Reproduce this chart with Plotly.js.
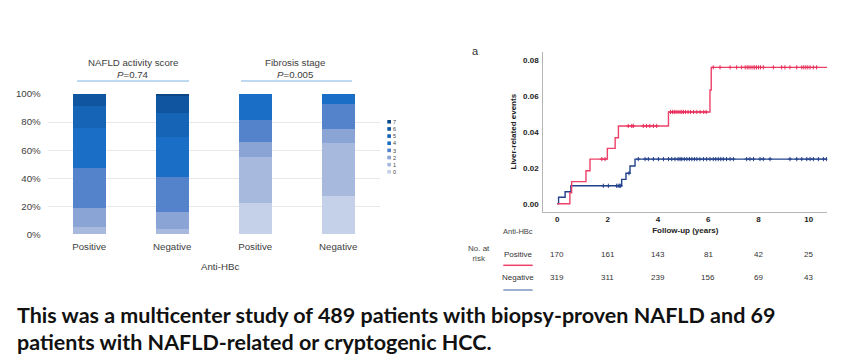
<!DOCTYPE html>
<html>
<head>
<meta charset="utf-8">
<script src="https://cdn.plot.ly/plotly-3.0.1.min.js"></script>
<style>html,body{margin:0;padding:0;background:#fff;}#chart{width:865px;height:363px;}</style>
</head>
<body>
<div id="chart"></div>
<script>
// ---------- data: stacked bars ----------
const barGroups = ["Positive", "Negative", "Positive", "Negative"];
const scoreLabels = ["0", "1", "2", "3", "4", "5", "6", "7"];
const nasPositive = [0, 5.4, 13.1, 28.5, 29.0, 15.7, 8.3, 0];
const nasNegative = [0, 3.5, 12.2, 25.4, 28.5, 16.6, 12.4, 1.4];
const fibPositive = [22.1, 33.2, 10.7, 15.5, 18.5, 0, 0, 0];
const fibNegative = [27.5, 37.8, 9.8, 17.6, 7.3, 0, 0, 0];
const panelTitles = ["NAFLD activity score", "Fibrosis stage"];
const panelP = ["0.74", "0.005"];
const barXTitle = "Anti-HBc";
const pctTicks = [0, 20, 40, 60, 80, 100];

// ---------- data: Kaplan-Meier ----------
const posTime = [0, 0.50, 0.57, 1.14, 1.30, 1.99, 2.30, 2.43, 4.42, 6.07, 6.12, 10.73];
const posEvents = [0, 0.0061, 0.0123, 0.0184, 0.0249, 0.0309, 0.0368, 0.0434, 0.0512, 0.0635, 0.0761, 0.0761];
const negTime = [0, 0.05, 0.31, 0.54, 2.56, 2.73, 2.89, 3.09, 10.73];
const negEvents = [0, 0.0036, 0.0067, 0.0100, 0.0136, 0.0170, 0.0210, 0.0249, 0.0249];
const posCensor = [1.77, 1.90, 2.82, 2.96, 3.02, 3.42, 3.55, 3.68, 3.82, 3.95, 4.50, 4.58, 4.65, 4.72, 4.80, 4.88, 4.95, 5.02, 5.10, 5.20, 5.30, 5.42, 5.55, 5.68, 5.82, 5.92,
  6.20, 6.47, 6.87, 7.13, 7.33, 7.47, 7.55, 7.62, 7.70, 7.78, 7.85, 7.92, 8.00, 8.08, 8.19, 8.59, 8.92, 9.05, 9.25, 9.52, 9.72, 9.80, 9.88, 9.96, 10.05, 10.18, 10.31];
const negCensor = [1.83, 2.03, 2.36, 2.42, 2.48, 2.52, 2.85, 3.22, 3.49, 3.62, 3.82, 4.02, 4.22, 4.42, 4.55, 4.68, 4.80, 4.88, 4.95, 5.05, 5.15, 5.25, 5.35, 5.45, 5.55, 5.67,
  5.81, 5.94, 6.07, 6.20, 6.30, 6.40, 6.50, 6.60, 6.73, 6.87, 7.00, 7.53, 7.66, 7.80, 8.06, 8.19, 8.46, 9.25, 9.52, 9.72, 9.92, 10.05, 10.18, 10.38, 10.58, 10.71];
const kmXTicks = [0, 2, 4, 6, 8, 10];
const kmYTicks = [0, 0.02, 0.04, 0.06, 0.08];
const riskPositive = [170, 161, 143, 81, 42, 25];
const riskNegative = [319, 311, 239, 156, 69, 43];
const riskGroups = ["Positive", "Negative"];
const kmXTitle = "Follow-up (years)";
const kmYTitle = "Liver-related events";
const panelLetter = "a";
const captionLines = [
  "This was a multicenter study of 489 patients with biopsy-proven NAFLD and 69",
  "patients with NAFLD-related or cryptogenic HCC."
];

// ---------- styling ----------
const W = 865, H = 363;
const px = x => x / W;
const py = y => 1 - y / H;
const scoreColors = ['#c5d0e9', '#a8b9de', '#8ba4d6', '#5483cb', '#1b6ec5', '#1564b6', '#0f55a0', '#0b4787'];
const posColor = '#ee4169', negColor = '#22418c';
const FONT = 'Liberation Sans, Arial, sans-serif';
const barTxt = '#404040';

const traces = [];
scoreLabels.forEach((s, i) => {
  traces.push({
    type: 'bar', x: [0, 1, 2, 3],
    y: [nasPositive[i], nasNegative[i], fibPositive[i], fibNegative[i]],
    name: s, marker: {color: scoreColors[i], line: {width: 0}},
    xaxis: 'x', yaxis: 'y', hoverinfo: 'none'
  });
});

function stepAt(times, vals, t) {
  let v = vals[0];
  for (let i = 0; i < times.length; i++) { if (times[i] <= t) v = vals[i]; }
  return v;
}
traces.push({type: 'scatter', mode: 'lines', x: negTime, y: negEvents, line: {shape: 'hv', color: negColor, width: 1.4}, xaxis: 'x2', yaxis: 'y2', hoverinfo: 'none'});
traces.push({type: 'scatter', mode: 'lines', x: posTime, y: posEvents, line: {shape: 'hv', color: posColor, width: 1.4}, xaxis: 'x2', yaxis: 'y2', hoverinfo: 'none'});
traces.push({type: 'scatter', mode: 'markers', x: negCensor, y: negCensor.map(t => stepAt(negTime, negEvents, t)),
  marker: {symbol: 'cross-thin', size: 3, line: {color: negColor, width: 1}}, xaxis: 'x2', yaxis: 'y2', hoverinfo: 'none'});
traces.push({type: 'scatter', mode: 'markers', x: posCensor, y: posCensor.map(t => stepAt(posTime, posEvents, t)),
  marker: {symbol: 'cross-thin', size: 3, line: {color: '#e8305c', width: 1}}, xaxis: 'x2', yaxis: 'y2', hoverinfo: 'none'});

const annotations = [];
const shapes = [];

// panel titles above the bar groups
const titleCenters = [133, 295];
const lineSpans = [[77, 189], [241, 352]];
panelTitles.forEach((t, i) => {
  annotations.push({xref: 'paper', yref: 'paper', x: px(titleCenters[i]), y: py(62.5), text: t, showarrow: false,
    xanchor: 'center', yanchor: 'middle', font: {family: FONT, size: 9.7, color: barTxt}});
  annotations.push({xref: 'paper', yref: 'paper', x: px(titleCenters[i]), y: py(74), text: '<i>P</i>=' + panelP[i], showarrow: false,
    xanchor: 'center', yanchor: 'middle', font: {family: FONT, size: 9.7, color: barTxt}});
  shapes.push({type: 'line', xref: 'paper', yref: 'paper', x0: px(lineSpans[i][0]), x1: px(lineSpans[i][1]), y0: py(81), y1: py(81),
    line: {color: '#a9cdeb', width: 1.5}});
});
annotations.push({xref: 'paper', yref: 'paper', x: px(220), y: py(266.7), text: barXTitle, showarrow: false,
  xanchor: 'center', yanchor: 'middle', font: {family: FONT, size: 9.7, color: barTxt}});

// custom legend (7 at top to 0 at bottom), one multi-line text block
const legFont = 5.5;
const legStep = legFont * 1.3;
const legCenter = 146.8;
const legTop = legCenter - 3.5 * legStep;
scoreLabels.forEach((s, i) => {
  const yc = legTop + (7 - i) * legStep;
  shapes.push({type: 'rect', xref: 'paper', yref: 'paper', x0: px(387.3), x1: px(391), y0: py(yc + 1.8), y1: py(yc - 1.8),
    fillcolor: scoreColors[i], line: {width: 0}});
});
annotations.push({xref: 'paper', yref: 'paper', x: px(392.3), y: py(legCenter), text: scoreLabels.slice().reverse().join('<br>'),
  showarrow: false, xanchor: 'left', yanchor: 'middle', align: 'left', borderpad: 0,
  font: {family: FONT, size: legFont, color: barTxt}});

// KM panel letter
annotations.push({xref: 'paper', yref: 'paper', x: px(476), y: py(50.5), text: panelLetter, showarrow: false,
  xanchor: 'center', yanchor: 'middle', font: {family: FONT, size: 11, color: '#333'}});

// risk table
annotations.push({xref: 'paper', yref: 'paper', x: px(518.3), y: py(231.7), text: 'Anti-HBc', showarrow: false,
  xanchor: 'center', yanchor: 'middle', font: {family: FONT, size: 7.5, color: '#444'}});
annotations.push({xref: 'paper', yref: 'paper', x: px(479), y: py(253.5), text: 'No. at<br>risk', showarrow: false,
  xanchor: 'center', yanchor: 'middle', align: 'center', font: {family: FONT, size: 8, color: '#444'}});
const rowY = [254.3, 277.7];
const rowLineY = [265.3, 290];
const rowLineColor = ['#ee4169', '#7f95c0'];
riskGroups.forEach((g, r) => {
  annotations.push({xref: 'paper', yref: 'paper', x: px(518.3), y: py(rowY[r]), text: g, showarrow: false,
    xanchor: 'center', yanchor: 'middle', font: {family: FONT, size: 8, color: '#333'}});
  shapes.push({type: 'line', xref: 'paper', yref: 'paper', x0: px(503.3), x1: px(532.7), y0: py(rowLineY[r]), y1: py(rowLineY[r]),
    line: {color: rowLineColor[r], width: 1.5}});
  const vals = r === 0 ? riskPositive : riskNegative;
  vals.forEach((v, k) => {
    annotations.push({xref: 'x2', yref: 'paper', x: kmXTicks[k], y: py(rowY[r]), text: String(v), showarrow: false,
      xanchor: 'center', yanchor: 'middle', font: {family: FONT, size: 8, color: '#333'}});
  });
});

// caption
captionLines.forEach((line, i) => {
  annotations.push({xref: 'paper', yref: 'paper', x: px(15), y: py(315 + i * 26.5), text: '<b>' + line + '</b>', showarrow: false,
    xanchor: 'left', yanchor: 'middle', font: {family: 'Lato, sans-serif', size: 21.5, color: '#111'}});
});

const layout = {
  width: W, height: H, margin: {l: 0, r: 0, t: 0, b: 0},
  paper_bgcolor: '#fff', plot_bgcolor: 'rgba(0,0,0,0)', showlegend: false,
  barmode: 'stack', bargap: 0.6,
  xaxis: {domain: [px(47.7), px(379.7)], range: [-0.5, 3.5], tickvals: [0, 1, 2, 3], ticktext: barGroups,
    showgrid: false, zeroline: false, showline: false, ticks: '', ticklabelstandoff: 5,
    tickfont: {family: FONT, size: 9.7, color: barTxt}, fixedrange: true},
  yaxis: {domain: [py(234.3), py(94)], range: [0, 100], tickvals: pctTicks, ticktext: pctTicks.map(v => v + '%'),
    showgrid: true, gridcolor: '#e8e8e8', gridwidth: 1, zeroline: false, showline: false, ticks: '', ticklabelstandoff: 6,
    tickfont: {family: FONT, size: 9.7, color: barTxt}, fixedrange: true},
  xaxis2: {domain: [px(543.3), px(827.3)], range: [-0.557, 10.735], anchor: 'y2', tickvals: kmXTicks,
    showgrid: false, zeroline: false, showline: true, linecolor: '#b5b5b5', linewidth: 1, ticks: '',
    tickfont: {family: FONT, size: 8, color: '#222', weight: 'bold'},
    title: {text: '<b>' + kmXTitle + '</b>', font: {family: FONT, size: 8, color: '#222'}, standoff: 4}},
  yaxis2: {domain: [py(211.7), py(51.7)], range: [-0.00447, 0.08484], anchor: 'x2', tickvals: kmYTicks, tickformat: '.2f',
    showgrid: false, zeroline: false, showline: true, linecolor: '#b5b5b5', linewidth: 1, ticks: '', ticklabelstandoff: 2,
    tickfont: {family: FONT, size: 8, color: '#222', weight: 'bold'},
    title: {text: '<b>' + kmYTitle + '</b>', font: {family: FONT, size: 8, color: '#222'}, standoff: 5}},
  annotations: annotations, shapes: shapes
};

Plotly.newPlot('chart', traces, layout, {staticPlot: true, displayModeBar: false});
</script>
</body>
</html>
